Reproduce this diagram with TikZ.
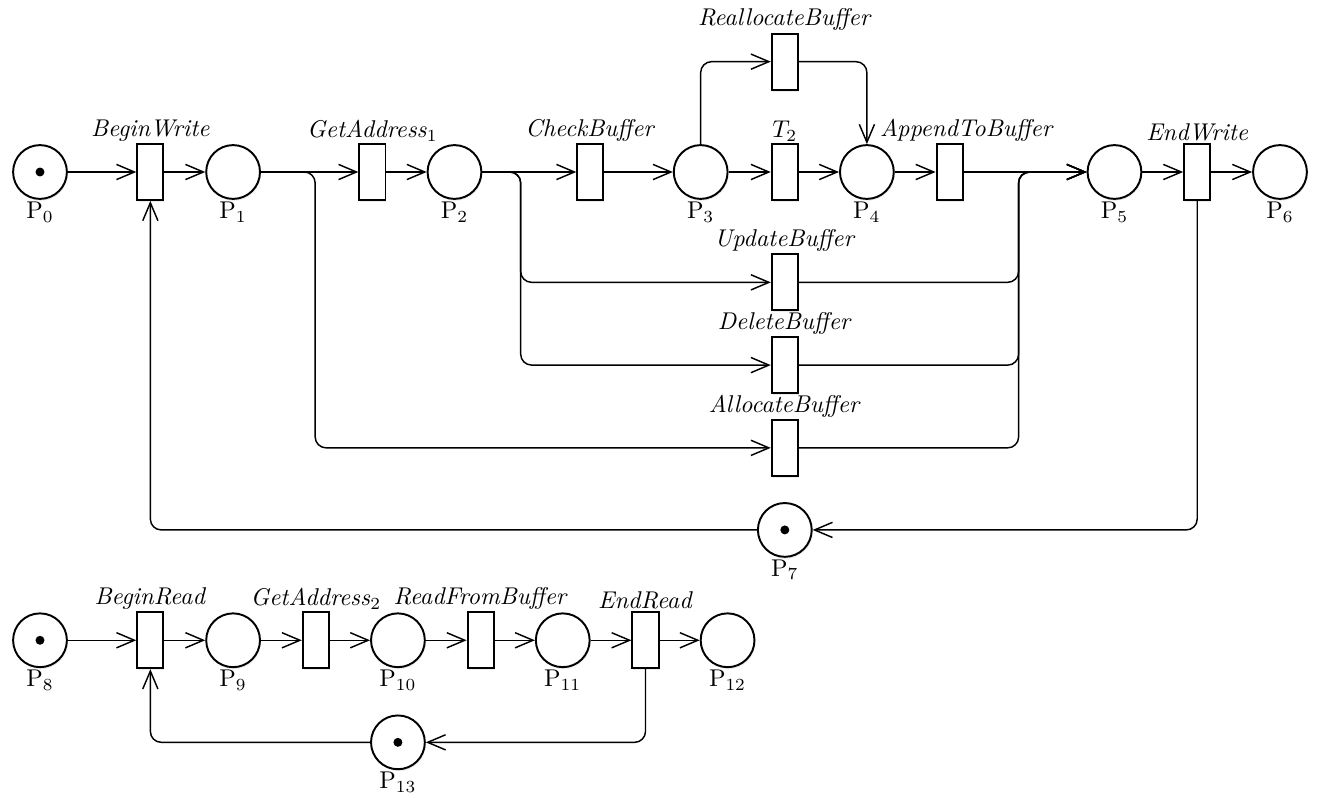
\documentclass[tikz,border=0pt]{standalone}
\usetikzlibrary{arrows.meta, petri, positioning, shadows}

\begin{document}
\begin{tikzpicture}[
    every place/.style={minimum size=7.8mm, thick, fill=white, drop shadow={shadow xshift=0.4pt, shadow yshift=-0.8pt, opacity=0.15}},
    every transition/.style={minimum width=3.8mm, minimum height=8.1mm, inner sep=0pt, thick, fill=white, drop shadow={shadow xshift=0.4pt, shadow yshift=-0.8pt, opacity=0.15}},
    every token/.style={minimum size=1.3mm},
    every label/.style={inner sep=0.6pt},
    flow/.style={-{Straight Barb[length=2.6mm, width=2.2mm]}, semithick, rounded corners=4.5pt},
    on grid
]
\useasboundingbox (-0.58,2.494) rectangle (18.546,-9.179);

% Writer
\node[place, tokens=1, label=below:$\mathrm{P}_0$] (p0) {};
\node[transition, right=1.6cm of p0, label=above:\textit{BeginWrite}] (bw) {};
\node[place, right=1.2cm of bw, label=below:$\mathrm{P}_1$] (p1) {};
\node[transition, right=2.02cm of p1, label=above:\textit{GetAddress}$_1$] (ga1) {};
\node[place, right=1.19cm of ga1, label=below:$\mathrm{P}_2$] (p2) {};
\node[transition, right=1.97cm of p2, label=above:\textit{CheckBuffer}] (cb) {};
\node[place, right=1.6cm of cb, label=below:$\mathrm{P}_3$] (p3) {};
\node[transition, right=1.22cm of p3, label=above:$T_2$] (t2) {};
\node[place, right=1.19cm of t2, label=below:$\mathrm{P}_4$] (p4) {};
\node[transition, right=1.2cm of p4, label={[xshift=2.5mm]above:\textit{AppendToBuffer}}] (atb) {};
\node[place, right=2.39cm of atb, label=below:$\mathrm{P}_5$] (p5) {};
\node[transition, right=1.2cm of p5, label=above:\textit{EndWrite}] (ew) {};
\node[place, right=1.2cm of ew, label=below:$\mathrm{P}_6$] (p6) {};

% Buffer operations
\node[transition, above=1.6cm of t2, label=above:\textit{ReallocateBuffer}] (realloc) {};
\node[transition, below=1.6cm of t2, label=above:\textit{UpdateBuffer}] (upd) {};
\node[transition, below=1.2cm of upd, label=above:\textit{DeleteBuffer}] (del) {};
\node[transition, below=1.2cm of del, label=above:\textit{AllocateBuffer}] (alloc) {};
\node[place, tokens=1, below=1.19cm of alloc, label=below:$\mathrm{P}_7$] (p7) {};

% Branch points
\coordinate[right=1.19cm of p1] (s1);
\coordinate[right=0.96cm of p2] (s2);
\coordinate[left=1.39cm of p5] (m5);

% Reader
\node[place, tokens=1, below=6.79cm of p0, label=below:$\mathrm{P}_8$] (p8) {};
\node[transition, right=1.6cm of p8, label=above:\textit{BeginRead}] (br) {};
\node[place, right=1.2cm of br, label=below:$\mathrm{P}_9$] (p9) {};
\node[transition, right=1.2cm of p9, label=above:\textit{GetAddress}$_2$] (ga2) {};
\node[place, right=1.19cm of ga2, label=below:$\mathrm{P}_{10}$] (p10) {};
\node[transition, right=1.2cm of p10, label=above:\textit{ReadFromBuffer}] (rfb) {};
\node[place, right=1.19cm of rfb, label=below:$\mathrm{P}_{11}$] (p11) {};
\node[transition, right=1.2cm of p11, label=above:\textit{EndRead}] (er) {};
\node[place, right=1.19cm of er, label=below:$\mathrm{P}_{12}$] (p12) {};
\node[place, tokens=1, below=1.48cm of p10, label=below:$\mathrm{P}_{13}$] (p13) {};

% Arcs (writer)
\draw[flow] (p0) -- (bw);
\draw[flow] (bw) -- (p1);
\draw[flow] (p1) -- (ga1);
\draw[flow] (ga1) -- (p2);
\draw[flow] (p2) -- (cb);
\draw[flow] (cb) -- (p3);
\draw[flow] (p3) -- (t2);
\draw[flow] (t2) -- (p4);
\draw[flow] (p4) -- (atb);
\draw[flow] (atb) -- (p5);
\draw[flow] (p5) -- (ew);
\draw[flow] (ew) -- (p6);
\draw[flow] (p3.north) |- (realloc);
\draw[flow] (realloc) -| (p4);
\draw[flow] (p1.east) -- (s1) |- (alloc);
\draw[flow] (p2.east) -- (s2) |- (upd);
\draw[flow] (p2.east) -- (s2) |- (del);
\draw[flow] (upd.east) -| (m5) -- (p5);
\draw[flow] (del.east) -| (m5) -- (p5);
\draw[flow] (alloc.east) -| (m5) -- (p5);
\draw[flow] (ew) |- (p7);
\draw[flow] (p7) -| (bw);

% Arcs (reader)
\draw[flow] (p8) -- (br);
\draw[flow] (br) -- (p9);
\draw[flow] (p9) -- (ga2);
\draw[flow] (ga2) -- (p10);
\draw[flow] (p10) -- (rfb);
\draw[flow] (rfb) -- (p11);
\draw[flow] (p11) -- (er);
\draw[flow] (er) -- (p12);
\draw[flow] (er) |- (p13);
\draw[flow] (p13) -| (br);
\end{tikzpicture}
\end{document}
